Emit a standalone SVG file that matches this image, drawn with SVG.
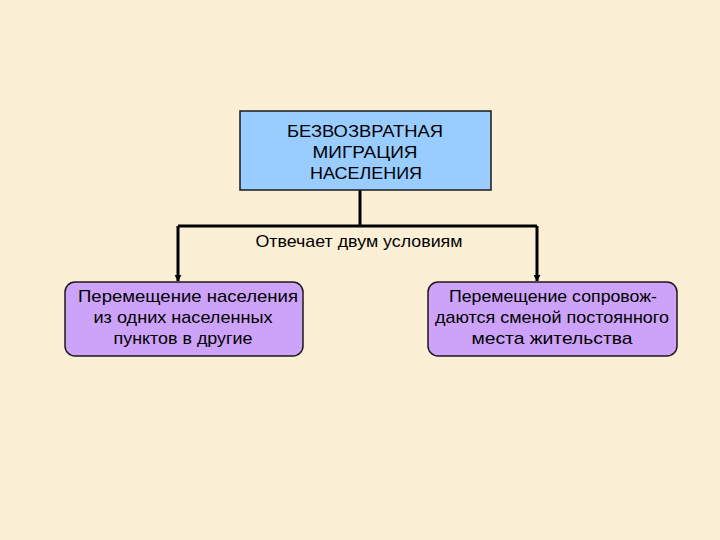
<svg xmlns="http://www.w3.org/2000/svg" width="720" height="540" viewBox="0 0 720 540">
<defs>
<marker id="arr" viewBox="0 0 10 10" refX="9" refY="5" markerWidth="7" markerHeight="7" markerUnits="userSpaceOnUse" orient="auto"><path d="M0,0 L10,5 L0,10 z" fill="#000"/></marker>
<style>
text{font-family:"Liberation Sans",Arial,sans-serif;font-size:17px;fill:#000;text-anchor:middle}
.conn{stroke:#000;stroke-width:3;fill:none}
.top{fill:#99CCFF;stroke:#1a1a1a;stroke-width:1.5}
.sub{fill:#CCA3F8;stroke:#1a1a1a;stroke-width:1.5}
</style>
</defs>
<rect width="720" height="540" fill="#FBEFD6"/>
<g id="connectors">
<path class="conn" d="M360,190 V226"/>
<path class="conn" d="M178,226 H537"/>
<path class="conn" d="M178,226 V281" marker-end="url(#arr)"/>
<path class="conn" d="M537,226 V281" marker-end="url(#arr)"/>
<text x="359" y="247" textLength="207" lengthAdjust="spacingAndGlyphs">Отвечает двум условиям</text>
</g>
<g id="node-top">
<rect class="top" x="240" y="111" width="251" height="79"/>
<text x="365" y="137" textLength="156" lengthAdjust="spacingAndGlyphs">БЕЗВОЗВРАТНАЯ</text>
<text x="365" y="158" textLength="105" lengthAdjust="spacingAndGlyphs">МИГРАЦИЯ</text>
<text x="366" y="179" textLength="112" lengthAdjust="spacingAndGlyphs">НАСЕЛЕНИЯ</text>
</g>
<g id="node-left">
<rect class="sub" x="65" y="282" width="238" height="74" rx="10"/>
<text x="188" y="302" textLength="220" lengthAdjust="spacingAndGlyphs">Перемещение населения</text>
<text x="183" y="323" textLength="179" lengthAdjust="spacingAndGlyphs">из одних населенных</text>
<text x="183" y="344" textLength="139" lengthAdjust="spacingAndGlyphs">пунктов в другие</text>
</g>
<g id="node-right">
<rect class="sub" x="428" y="282" width="249" height="74" rx="10"/>
<text x="553" y="302" textLength="208" lengthAdjust="spacingAndGlyphs">Перемещение сопровож-</text>
<text x="552" y="323" textLength="234" lengthAdjust="spacingAndGlyphs">даются сменой постоянного</text>
<text x="552" y="344" textLength="161" lengthAdjust="spacingAndGlyphs">места жительства</text>
</g>
</svg>
